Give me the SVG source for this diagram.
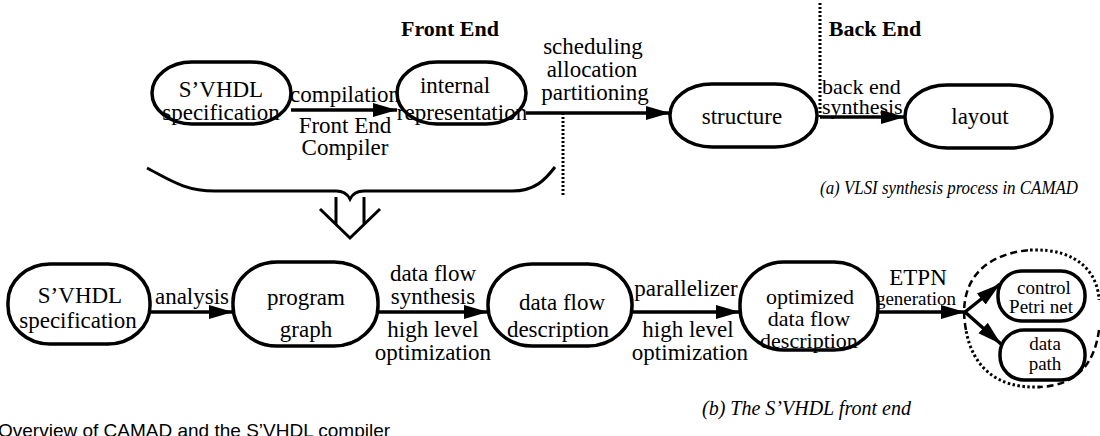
<svg xmlns="http://www.w3.org/2000/svg" width="1100" height="436" viewBox="0 0 1100 436">
<defs>
<marker id="ah" markerUnits="userSpaceOnUse" markerWidth="26" markerHeight="18" refX="24" refY="9" orient="auto">
<path d="M0,2 L24,9 L0,16 Z" fill="#000"/>
</marker>
</defs>
<style>
.f{fill:#fff;stroke:none}
.s{fill:none;stroke:#000;stroke-width:3.5}
.t{font-family:"Liberation Serif",serif;font-size:23px;fill:#000}
.md{font-size:22px}
.sm{font-size:19px}
.hd{font-size:22px;font-weight:bold}
.c{text-anchor:middle}
.i{font-style:italic;font-size:20px}
.a{fill:none;stroke:#000;stroke-width:3.5;marker-end:url(#ah)}
.dot{fill:none;stroke:#000;stroke-width:3;stroke-dasharray:2 2}
.ln{fill:none;stroke:#000;stroke-width:3}
</style>
<rect width="1100" height="436" fill="#fff"/>

<g id="connectors">
<path class="a" d="M291,110 H397"/>
<path class="a" d="M526,113 H670"/>
<path class="a" d="M820,117 H905"/>
<path class="a" d="M150,312 H233"/>
<path class="a" d="M378,312 H488"/>
<path class="a" d="M632,312 H740"/>
<path class="a" d="M878,312 H965"/>
<path class="a" d="M965,312 L1000,284"/>
<path class="a" d="M965,312 L1001,344"/>
</g>

<g id="separators">
<path class="dot" d="M563,113 V196"/>
<path class="dot" d="M820,3 V117"/>
</g>

<g id="brace">
<path class="ln" d="M147,168 C170,180 185,191 215,191 L336,191 Q346,191 350,199 Q354,191 364,191 L512,191 C535,191 545,180 555,167"/>
<path class="ln" d="M336,197 V224 M364,197 V224 M320,209 L350,238 L380,209"/>
</g>

<g id="n-svhdl-top">
<rect class="f" x="152" y="62" width="139" height="62" rx="40" ry="31"/>
<text class="t c" x="221" y="97">S’VHDL</text>
<text class="t c" x="221" y="120">specification</text>
<rect class="s" x="152" y="62" width="139" height="62" rx="40" ry="31"/>
</g>
<g id="n-internal">
<rect class="f" x="397" y="62" width="129" height="62" rx="40" ry="31"/>
<text class="t c" x="455" y="93">internal</text>
<text class="t c" x="462" y="120">representation</text>
<rect class="s" x="397" y="62" width="129" height="62" rx="40" ry="31"/>
</g>
<g id="n-structure">
<rect class="f" x="670" y="84" width="147" height="63" rx="42" ry="31"/>
<text class="t c" x="742" y="124">structure</text>
<rect class="s" x="670" y="84" width="147" height="63" rx="42" ry="31"/>
</g>
<g id="n-layout">
<rect class="f" x="905" y="85" width="147" height="63" rx="42" ry="31"/>
<text class="t c" x="980" y="124">layout</text>
<rect class="s" x="905" y="85" width="147" height="63" rx="42" ry="31"/>
</g>

<g id="n-svhdl-bottom">
<rect class="f" x="8" y="264" width="142" height="80" rx="42" ry="38"/>
<text class="t c" x="80" y="303">S’VHDL</text>
<text class="t c" x="78" y="328">specification</text>
<rect class="s" x="8" y="264" width="142" height="80" rx="42" ry="38"/>
</g>
<g id="n-program">
<rect class="f" x="233" y="262" width="145" height="84" rx="44" ry="40"/>
<text class="t c" x="306" y="305">program</text>
<text class="t c" x="306" y="337">graph</text>
<rect class="s" x="233" y="262" width="145" height="84" rx="44" ry="40"/>
</g>
<g id="n-dataflow">
<rect class="f" x="488" y="264" width="144" height="82" rx="44" ry="40"/>
<text class="t c" x="562" y="310">data flow</text>
<text class="t c" x="558" y="337">description</text>
<rect class="s" x="488" y="264" width="144" height="82" rx="44" ry="40"/>
</g>
<g id="n-optimized">
<rect class="f" x="740" y="262" width="138" height="88" rx="44" ry="42"/>
<text class="t md c" x="810" y="304">optimized</text>
<text class="t md c" x="809" y="326">data flow</text>
<text class="t md c" x="809" y="348">description</text>
<rect class="s" x="740" y="262" width="138" height="88" rx="44" ry="42"/>
</g>
<g id="n-control">
<rect class="f" x="998" y="271" width="87" height="50" rx="24" ry="24"/>
<text class="t sm c" x="1044" y="294">control</text>
<text class="t sm c" x="1041" y="313">Petri net</text>
<rect class="s" x="998" y="271" width="87" height="50" rx="24" ry="24"/>
</g>
<g id="n-datapath">
<rect class="f" x="1000" y="330" width="85" height="50" rx="24" ry="24"/>
<text class="t sm c" x="1045" y="350">data</text>
<text class="t sm c" x="1045" y="370">path</text>
<rect class="s" x="1000" y="330" width="85" height="50" rx="24" ry="24"/>
</g>
<g id="etpn-boundary">
<path d="M966,330 C958,290 975,255 1030,250" fill="none" stroke="#000" stroke-width="2.5" stroke-dasharray="7 4"/>
<path d="M1030,250 C1080,248 1098,275 1099,300" fill="none" stroke="#000" stroke-width="3" stroke-dasharray="2.5 2.5"/>
<path d="M1099,330 C1095,360 1080,385 1040,387" fill="none" stroke="#000" stroke-width="2.5" stroke-dasharray="7 4"/>
<path d="M1040,387 C995,389 972,365 966,330" fill="none" stroke="#000" stroke-width="3" stroke-dasharray="2.5 2.5"/>
</g>

<g id="labels">
<text class="t hd c" x="450" y="36">Front End</text>
<text class="t hd c" x="875" y="36">Back End</text>
<text class="t c" x="345" y="102">compilation</text>
<text class="t c" x="345" y="133">Front End</text>
<text class="t c" x="345" y="155">Compiler</text>
<text class="t c" x="593" y="54">scheduling</text>
<text class="t c" x="592" y="77">allocation</text>
<text class="t c" x="595" y="100">partitioning</text>
<text class="t md" x="822" y="94">back end</text>
<text class="t md" x="822" y="114">synthesis</text>
<text class="t i" x="820" y="194" font-size="18" style="font-size:18px" textLength="258" lengthAdjust="spacingAndGlyphs">(a) VLSI synthesis process in CAMAD</text>
<text class="t c" x="192" y="304">analysis</text>
<text class="t c" x="433" y="281">data flow</text>
<text class="t c" x="433" y="304">synthesis</text>
<text class="t c" x="433" y="337">high level</text>
<text class="t c" x="433" y="360">optimization</text>
<text class="t c" x="686" y="296">parallelizer</text>
<text class="t c" x="688" y="337">high level</text>
<text class="t c" x="690" y="360">optimization</text>
<text class="t c" x="918" y="285">ETPN</text>
<text class="t sm c" x="916" y="305">generation</text>
<text class="t i" x="702" y="415">(b) The S’VHDL front end</text>
<text x="-2" y="437" font-family="'Liberation Sans',sans-serif" font-size="19">Overview of CAMAD and the S’VHDL compiler</text>
</g>
</svg>
